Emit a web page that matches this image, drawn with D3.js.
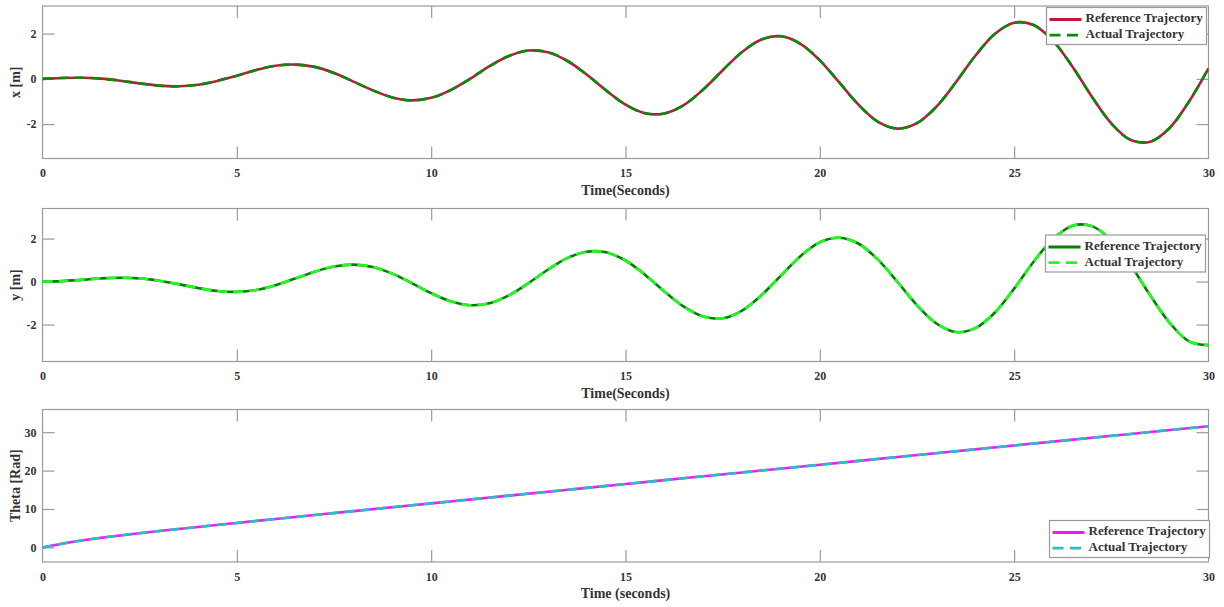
<!DOCTYPE html>
<html>
<head>
<meta charset="utf-8">
<script src="https://cdn.jsdelivr.net/npm/d3@7"></script>
<style>
  body { margin: 0; background: #fff; }
  svg { display: block; }
  text { font-family: "Liberation Serif", "Times New Roman", serif; font-weight: bold; fill: #333; }
</style>
</head>
<body>
<svg id="chart" width="1224" height="607"></svg>
<script>
// Sample times (s) for the planar trajectory
const timeXY = [0,0.5,1,1.5,2,2.5,3,3.5,4,4.5,5,5.5,6,6.5,7,7.5,8,8.5,9,9.5,10,
  10.5,11,11.5,12,12.5,13,13.5,14,14.5,15,15.5,16,16.5,17,17.5,18,18.5,19,19.5,20,
  20.5,21,21.5,22,22.5,23,23.5,24,24.5,25,25.5,26,26.5,27,27.5,28,28.5,29,29.5,30];

// x position [m]
const posX = [0.00,0.04,0.05,0.01,-0.08,-0.20,-0.30,-0.33,-0.26,-0.09,0.14,0.39,0.58,0.63,0.53,0.26,
  -0.12,-0.51,-0.82,-0.95,-0.84,-0.50,0.00,0.56,1.01,1.25,1.18,0.80,0.19,-0.51,-1.14,-1.52,-1.53,
  -1.16,-0.47,0.38,1.19,1.74,1.88,1.55,0.82,-0.16,-1.15,-1.90,-2.20,-1.96,-1.23,-0.15,1.02,1.98,
  2.48,2.38,1.68,0.54,-0.79,-1.97,-2.70,-2.78,-2.17,-1.00,0.46];

// y position [m]
const posY = [0.00,0.02,0.08,0.15,0.18,0.15,0.04,-0.12,-0.30,-0.44,-0.48,-0.39,-0.17,0.14,0.46,0.70,
  0.79,0.68,0.37,-0.07,-0.54,-0.92,-1.10,-1.01,-0.64,-0.08,0.55,1.09,1.39,1.36,0.98,0.32,-0.46,
  -1.17,-1.63,-1.71,-1.35,-0.63,0.28,1.18,1.83,2.04,1.76,1.01,-0.02,-1.10,-1.95,-2.35,-2.17,-1.45,
  -0.33,0.92,1.98,2.60,2.58,1.92,0.76,-0.64,-1.92,-2.78,-2.96];

// Heading angle [rad]
const timeTheta = [0,0.5,1,1.5,2,3,4,5,6,8,10,12,14,16,18,20,22,24,26,28,30];
const theta = [0,0.96,1.79,2.48,3.11,4.25,5.33,6.37,7.41,9.45,11.47,13.49,15.50,17.51,19.52,
  21.52,23.53,25.53,27.53,29.54,31.54];

// The controller tracks the reference exactly, so the actual series reuse it
const actualX = posX, actualY = posY, actualTheta = theta;

const xTicks = [0,5,10,15,20,25,30];
const seriesNames = ["Reference Trajectory", "Actual Trajectory"];

const svg = d3.select("#chart");
const left = 42.5, right = 1208.5;
const x = d3.scaleLinear().domain([0, 30]).range([left, right]);

const panels = [
  { top: 6, bottom: 158.5, domain: [-3.52, 3.22], yTicks: [-2, 0, 2], ylabel: "x [m]", xlabel: "Time(Seconds)",
    t: timeXY, ref: posX, act: actualX, refColor: "#C0173F", actColor: "#0A8A0A",
    legend: { x: 1046.5, y: 7.5 } },
  { top: 208.5, bottom: 361.5, domain: [-3.72, 3.40], yTicks: [-2, 0, 2], ylabel: "y [m]", xlabel: "Time(Seconds)",
    t: timeXY, ref: posY, act: actualY, refColor: "#0B7A0B", actColor: "#1CFF1C",
    legend: { x: 1045.5, y: 235 } },
  { top: 409.5, bottom: 562, domain: [-3.8, 35.9], yTicks: [0, 10, 20, 30], ylabel: "Theta [Rad]", xlabel: "Time (seconds)",
    t: timeTheta, ref: theta, act: actualTheta, refColor: "#FF10FF", actColor: "#22C2C2",
    legend: { x: 1049.5, y: 520.5 } }
];

const frameColor = "#9a9a9a";
const tickLen = 12;
const fmt = d => String(d);

panels.forEach((p, i) => {
  const y = d3.scaleLinear().domain(p.domain).range([p.bottom, p.top]);
  const g = svg.append("g");

  const clipId = "clip" + i;
  svg.append("clipPath").attr("id", clipId).append("rect")
    .attr("x", left).attr("y", p.top).attr("width", right - left).attr("height", p.bottom - p.top);

  // frame
  g.append("rect").attr("x", left).attr("y", p.top)
    .attr("width", right - left).attr("height", p.bottom - p.top)
    .attr("fill", "#fff").attr("stroke", frameColor).attr("stroke-width", 1.2);

  // inward ticks on all four sides, labels only on left and bottom
  const styleAxis = sel => {
    sel.select(".domain").remove();
    sel.selectAll(".tick line").attr("stroke", frameColor).attr("stroke-width", 1.2);
    sel.selectAll(".tick text").attr("fill", "#333").style("font-size", "12px")
      .style("font-family", "'Liberation Serif', serif").style("font-weight", "bold");
  };
  const bottomAxis = g.append("g").attr("transform", `translate(0,${p.bottom})`)
    .call(d3.axisBottom(x).tickValues(xTicks).tickFormat(fmt).tickSizeInner(-tickLen).tickSizeOuter(0).tickPadding(10))
    .call(styleAxis);
  const topAxis = g.append("g").attr("transform", `translate(0,${p.top})`)
    .call(d3.axisTop(x).tickValues(xTicks).tickSizeInner(-tickLen).tickSizeOuter(0).tickFormat(""))
    .call(styleAxis);
  // the end ticks at 0 and 30 sit on the frame edges
  [bottomAxis, topAxis].forEach(a => a.selectAll(".tick").filter(d => d === 0 || d === 30)
    .select("line").attr("stroke", "none"));

  g.append("g").attr("transform", `translate(${left},0)`)
    .call(d3.axisLeft(y).tickValues(p.yTicks).tickFormat(fmt).tickSizeInner(-tickLen).tickSizeOuter(0).tickPadding(6))
    .call(styleAxis);
  g.append("g").attr("transform", `translate(${right},0)`)
    .call(d3.axisRight(y).tickValues(p.yTicks).tickSizeInner(-tickLen).tickSizeOuter(0).tickFormat(""))
    .call(styleAxis);

  // series
  const line = (ts, vals) => d3.line()
    .x((d, k) => x(ts[k])).y(d => y(d))
    .curve(d3.curveCatmullRom.alpha(0.5))(vals);

  g.append("path").attr("d", line(p.t, p.ref)).attr("clip-path", `url(#${clipId})`)
    .attr("fill", "none").attr("stroke", p.refColor).attr("stroke-width", 2.6);
  g.append("path").attr("d", line(p.t, p.act)).attr("clip-path", `url(#${clipId})`)
    .attr("fill", "none").attr("stroke", p.actColor).attr("stroke-width", 2.6)
    .attr("stroke-dasharray", "10,6");

  // axis titles
  g.append("text").attr("x", (left + right) / 2).attr("y", p.bottom + 33)
    .attr("text-anchor", "middle").attr("dominant-baseline", "middle")
    .style("font-size", "14px").text(p.xlabel);
  g.append("text")
    .attr("transform", `translate(17,${(p.top + p.bottom) / 2}) rotate(-90)`)
    .attr("text-anchor", "middle").attr("dominant-baseline", "middle")
    .style("font-size", "14px").text(p.ylabel);

  // legend
  const lg = g.append("g").attr("transform", `translate(${p.legend.x},${p.legend.y})`);
  lg.append("rect").attr("width", 160).attr("height", 37)
    .attr("fill", "#fff").attr("stroke", frameColor).attr("stroke-width", 1.2);
  [p.refColor, p.actColor].forEach((c, k) => {
    const cy = 12 + k * 15.7;
    lg.append("line").attr("x1", 3).attr("x2", 35).attr("y1", cy).attr("y2", cy)
      .attr("stroke", c).attr("stroke-width", 2.8)
      .attr("stroke-dasharray", k === 1 ? "11,6.5" : null);
    lg.append("text").attr("x", 39).attr("y", cy).attr("dominant-baseline", "middle")
      .style("font-size", "13px").text(seriesNames[k]);
  });
});
</script>
</body>
</html>
